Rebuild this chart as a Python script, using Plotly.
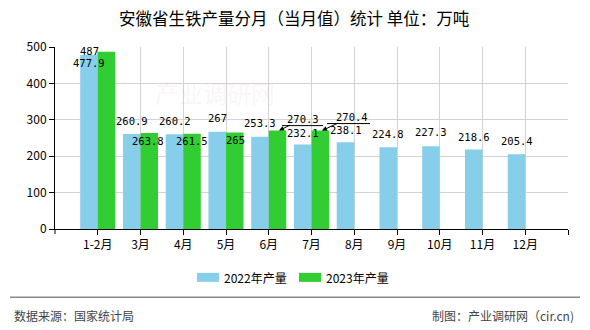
import plotly.graph_objects as go

# ---- data ----
months = ["1-2月", "3月", "4月", "5月", "6月", "7月", "8月", "9月", "10月", "11月", "12月"]
v2022 = [477.9, 260.9, 260.2, 267, 253.3, 232.1, 238.1, 224.8, 227.3, 218.6, 205.4]
v2023 = [487, 263.8, 261.5, 265, 270.3, 270.4]
series_names = ["2022年产量", "2023年产量"]
y_ticks = [0, 100, 200, 300, 400, 500]

title_text = "安徽省生铁产量分月（当月值）统计 单位：万吨"
source_text = "数据来源：国家统计局"
credit_text = "制图：产业调研网（cir.cn)"

# ---- styles ----
C22 = "#87CEEB"
C23 = "#32CD32"
CJK = "Noto Sans CJK SC"
NUM = "DejaVu Sans Mono"

# label offsets (pixels, relative to category centre and bar top)
blue_dx = -8.75
blue_dy = [-7.5, 13, 13, 13.5, 13.5, 12, 12, 13, 14, 12, 13]
green_dx = [-8.75, 7.5, 8.75, 9]
green_dy = [1, -8.3, -7.4, -7.7]
# callouts for 6月/7月 2023: (head xshift, ax, ay, underline x0, x1, y)
callouts = [(10.25, 24, -12, 13.25, 54.25, 5), (10.5, 30, -14, 15.5, 58.5, 7)]

fig = go.Figure()
fig.add_bar(x=months, y=v2022, name=series_names[0], marker_color=C22, marker_line_width=0)
fig.add_bar(x=months[:len(v2023)], y=v2023, name=series_names[1], marker_color=C23, marker_line_width=0)

ann = []
# watermark (very faint)
ann.append(dict(xref="paper", yref="paper", x=(215 - 55) / 513, y=(229 - 92) / 182.5,
                text="产业调研网", showarrow=False, xanchor="center", yanchor="middle",
                font=dict(family=CJK, size=24, color="rgba(220,180,180,0.12)")))
for i, v in enumerate(v2022):
    ann.append(dict(x=months[i], y=v, text=f"{v:g}", showarrow=False, xshift=blue_dx,
                    yshift=blue_dy[i], xanchor="center", yanchor="middle",
                    font=dict(family=NUM, size=10.5, color="#000")))
for i, v in enumerate(v2023):
    if i < len(green_dx):
        ann.append(dict(x=months[i], y=v, text=f"{v:g}", showarrow=False, xshift=green_dx[i],
                        yshift=green_dy[i], xanchor="center", yanchor="middle",
                        font=dict(family=NUM, size=10.5, color="#000")))
shapes = []
for k, (hx, ax, ay, lx0, lx1, ly) in enumerate(callouts):
    i = len(green_dx) + k
    v = v2023[i]
    ann.append(dict(x=months[i], y=v, text=f"{v:g}", showarrow=True, xshift=hx,
                    ax=ax, ay=ay, arrowhead=2, arrowsize=1, arrowwidth=1, arrowcolor="#000",
                    borderpad=0, font=dict(family=NUM, size=10.5, color="#000")))
    shapes.append(dict(type="line", xref="x", yref="y", xsizemode="pixel", ysizemode="pixel",
                       xanchor=i, yanchor=v, x0=lx0, x1=lx1, y0=ly, y1=ly,
                       line=dict(color="#000", width=1)))

# title
ann.append(dict(xref="paper", yref="paper", x=(294 - 55) / 513, y=1 + (46.5 - 17) / 182.5,
                text=title_text, showarrow=False, xanchor="center", yanchor="middle",
                font=dict(family=CJK, size=16.5, color="#000")))
# legend (manual)
leg = [(197, C22, series_names[0]), (299, C23, series_names[1])]
for x0, col, name in leg:
    shapes.append(dict(type="rect", xref="paper", yref="paper",
                       x0=(x0 - 55) / 513, x1=(x0 + 22 - 55) / 513,
                       y0=(229 - 282) / 182.5, y1=(229 - 273) / 182.5,
                       fillcolor=col, line_width=0))
    ann.append(dict(xref="paper", yref="paper", x=(x0 + 25 - 55) / 513, y=(229 - 277.5) / 182.5,
                    text=name, showarrow=False, xanchor="left", yanchor="middle",
                    font=dict(family=CJK, size=12, color="#000")))
# footer
shapes.append(dict(type="line", xref="paper", yref="paper", x0=(10 - 55) / 513, x1=(580 - 55) / 513,
                   y0=(229 - 297.5) / 182.5, y1=(229 - 297.5) / 182.5,
                   line=dict(color="#888", width=1.5)))
ann.append(dict(xref="paper", yref="paper", x=(12 - 55) / 513, y=(229 - 316) / 182.5,
                text=source_text, showarrow=False, xanchor="left", yanchor="middle",
                font=dict(family=CJK, size=12, color="#444")))
ann.append(dict(xref="paper", yref="paper", x=(576 - 55) / 513, y=(229 - 316) / 182.5,
                text=credit_text, showarrow=False, xanchor="right", yanchor="middle",
                font=dict(family=CJK, size=12, color="#444")))
# corner tick at left end of x axis
shapes.append(dict(type="line", xref="paper", yref="paper", x0=0, x1=0, y0=0, y1=-5 / 182.5,
                   line=dict(color="#000", width=1)))

fig.update_layout(
    width=590, height=330,
    margin=dict(l=55, r=22, t=46.5, b=101),
    paper_bgcolor="white", plot_bgcolor="white",
    barmode="group", bargap=0.18, bargroupgap=0,
    showlegend=False,
    annotations=ann, shapes=shapes,
    xaxis=dict(type="category", categoryorder="array", categoryarray=months + [" "],
               range=[-1, len(months)], showline=True, linecolor="#000", linewidth=1,
               ticks="outside", ticklen=5, tickcolor="#000", showgrid=True,
               gridcolor="#d3d3d3", gridwidth=1,
               tickfont=dict(family=CJK, size=12, color="#000")),
    yaxis=dict(range=[0, 500], tickvals=y_ticks, showline=True, linecolor="#000", linewidth=1,
               ticks="outside", ticklen=5, tickcolor="#000", showgrid=True,
               gridcolor="#d3d3d3", gridwidth=1, zeroline=False,
               tickfont=dict(family=CJK, size=12, color="#000")),
)

fig.write_html("out.html")
